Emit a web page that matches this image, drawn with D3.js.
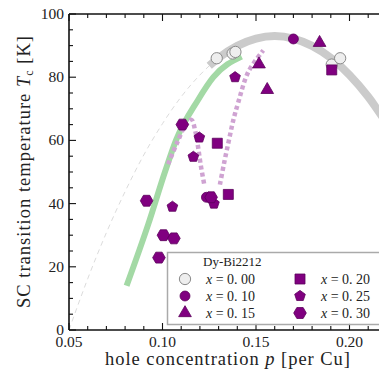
<!DOCTYPE html>
<html><head><meta charset="utf-8">
<script src="https://cdn.jsdelivr.net/npm/d3@7"></script>
<style>
body{margin:0;background:#fff}
svg{display:block}
text{font-family:"Liberation Serif","DejaVu Serif",serif;fill:#222}
</style>
</head><body><svg id="c" width="379" height="376"></svg>
<script>
// ---- data ----
const domeP   = [0.125,0.13,0.14,0.15,0.16,0.17,0.18,0.19,0.20,0.21,0.22];
const domeT   = [83.6,86.1,89.9,92.2,93.0,92.2,89.9,86.1,80.7,73.8,65.3];
const underP  = [0.05,0.06,0.07,0.08,0.09,0.10,0.11,0.12,0.125];
const underT  = [0,16.2,30.8,43.8,55.4,65.3,73.8,80.7,83.6];
const greenP  = [0.0808,0.0924,0.1013,0.1072,0.119,0.1272,0.1423];
const greenT  = [14,33.5,50,60,72.8,80,86.5];
const dotAP   = [0.103,0.108,0.112,0.1155,0.1175,0.119,0.1205,0.1225];
const dotAT   = [52.5,59.5,64.5,66.5,63,58,52,45.5];
const dotBP   = [0.1307,0.133,0.1355,0.1379,0.1405,0.1459,0.1539];
const dotBT   = [46,53,60,66.5,72,81.7,88.5];

const seriesNames = ["x = 0.00","x = 0.10","x = 0.15","x = 0.20","x = 0.25","x = 0.30"];
const x000P = [0.129,0.1375,0.139,0.1905,0.195];
const x000T = [86,87.5,88,84,86];
const x010P = [0.1235,0.170];
const x010T = [42,92.1];
const x015P = [0.1516,0.156,0.184];
const x015T = [84.1,76,90.9];
const x020P = [0.1293,0.1352,0.1905];
const x020T = [59.1,42.9,82.3];
const x025P = [0.1053,0.1165,0.1197,0.1275,0.1388];
const x025T = [39,54.8,60.9,40,80];
const x030P = [0.0915,0.0981,0.1005,0.1061,0.1106,0.126];
const x030T = [40.9,22.9,30,29,65,42];

const xTicks = [0.05,0.10,0.15,0.20];
const yTicks = [0,20,40,60,80,100];

// ---- layout ----
const svg = d3.select("#c");
const L=69, T=14, B=330;
const x = d3.scaleLinear().domain([0.05,0.25]).range([L, L+4*93.5]);
const y = d3.scaleLinear().domain([0,100]).range([B,T]);
const R = x(0.25);

const zip = (P,V)=>P.map((p,i)=>[p,V[i]]);
const line = d3.line().x(d=>x(d[0])).y(d=>y(d[1])).curve(d3.curveMonotoneX);
const lineC = d3.line().x(d=>x(d[0])).y(d=>y(d[1])).curve(d3.curveCatmullRom);

const plot = svg.append("g");
plot.append("path").attr("d",line(zip(underP,underT))).attr("fill","none")
  .attr("stroke","#dcdcdc").attr("stroke-width",1).attr("stroke-dasharray","5,4");
plot.append("path").attr("d",line(zip(domeP,domeT))).attr("fill","none")
  .attr("stroke","#cbcbcb").attr("stroke-width",8);
plot.append("path").attr("d",line(zip(greenP,greenT))).attr("fill","none")
  .attr("stroke","#a3d9a5").attr("stroke-width",6);
[[dotAP,dotAT],[dotBP,dotBT]].forEach(([P,V])=>{
  plot.append("path").attr("d",lineC(zip(P,V))).attr("fill","none")
    .attr("stroke","#cfa3d2").attr("stroke-width",4.5).attr("stroke-dasharray","4,3");
});

// marker shapes
function poly(n, r, rot){
  const pts=[];
  for(let i=0;i<n;i++){const a=rot+i*2*Math.PI/n; pts.push([r*Math.cos(a), r*Math.sin(a)]);}
  return "M"+pts.map(p=>p.join(",")).join("L")+"Z";
}
const shapes = [
  d3.symbol().type(d3.symbolCircle).size(100)(),
  d3.symbol().type(d3.symbolCircle).size(78)(),
  d3.symbol().type(d3.symbolTriangle).size(70)(),
  d3.symbol().type(d3.symbolSquare).size(100)(),
  poly(5,5.6,-Math.PI/2),
  poly(6,6.3,0)
];
const fills = ["#eeeeee","#800080","#800080","#800080","#800080","#800080"];
const strokes = ["#8a8a8a","#5c005c","#5c005c","#5c005c","#5c005c","#5c005c"];
const seriesP = [x000P,x010P,x015P,x020P,x025P,x030P];
const seriesT = [x000T,x010T,x015T,x020T,x025T,x030T];
seriesP.forEach((P,k)=>{
  plot.selectAll(null).data(zip(P,seriesT[k])).enter().append("path")
    .attr("d",shapes[k]).attr("transform",d=>`translate(${x(d[0])},${y(d[1])})`)
    .attr("fill",fills[k]).attr("stroke",strokes[k]).attr("stroke-width",k===0?1:0.8);
});

// ---- axes ----
const ax = svg.append("g").attr("stroke","#111");
ax.append("line").attr("x1",L).attr("x2",R).attr("y1",B).attr("y2",B).attr("stroke-width",1.6);
ax.append("line").attr("x1",L).attr("x2",R).attr("y1",T).attr("y2",T).attr("stroke-width",1.6);
ax.append("line").attr("x1",L).attr("x2",L).attr("y1",T).attr("y2",B).attr("stroke-width",1.6);
const xMinor = d3.range(50,251,10).map(v=>v/1000);
xMinor.forEach(v=>{
  const major = Math.round(v*1000)%50===0;
  const len = major?7:4;
  ax.append("line").attr("x1",x(v)).attr("x2",x(v)).attr("y1",B).attr("y2",B-len).attr("stroke-width",1.1);
  ax.append("line").attr("x1",x(v)).attr("x2",x(v)).attr("y1",T).attr("y2",T+len).attr("stroke-width",1.1);
});
d3.range(0,101,5).forEach(v=>{
  const len = v%20===0?7:4;
  ax.append("line").attr("x1",L).attr("x2",L+len).attr("y1",y(v)).attr("y2",y(v)).attr("stroke-width",1.1);
});
svg.selectAll(null).data(xTicks).enter().append("text")
  .attr("x",d=>x(d)).attr("y",B+16.5).attr("text-anchor","middle").attr("font-size",15.5)
  .text(d=>d.toFixed(2));
svg.selectAll(null).data(yTicks).enter().append("text")
  .attr("x",L-5).attr("y",d=>y(d)+5).attr("text-anchor","end").attr("font-size",15.5)
  .text(d=>d);

// axis titles
const xl = svg.append("text").attr("x",105).attr("y",365).attr("font-size",18.5)
  .attr("textLength",245).attr("lengthAdjust","spacing");
xl.append("tspan").text("hole concentration  ");
xl.append("tspan").attr("font-style","italic").text("p");
xl.append("tspan").text(" [per Cu]");

const yl = svg.append("text").attr("font-size",18.5);
yl.append("tspan").text("SC transition temperature  ");
yl.append("tspan").attr("font-style","italic").text("T");
yl.append("tspan").attr("font-size",12).attr("dy",3).text("c");
yl.append("tspan").attr("dy",-3).text(" [K]");
const ylLen = yl.node().getComputedTextLength();
const ylTarget = 272;
yl.attr("textLength",ylTarget).attr("lengthAdjust","spacing");
yl.attr("transform",`translate(30,${308}) rotate(-90)`);

// ---- legend ----
const lg = svg.append("g");
lg.append("rect").attr("x",167.5).attr("y",252.5).attr("width",240).attr("height",72)
  .attr("fill","#fff").attr("fill-opacity",0.9).attr("stroke","#aaa").attr("stroke-width",1.5);
lg.append("text").attr("x",203).attr("y",266).attr("font-size",13).text("Dy-Bi2212");
seriesNames.forEach((name,k)=>{
  const col = Math.floor(k/3), row = k%3;
  const mx = col===0?185:300, ty = 279+row*17;
  lg.append("path").attr("d",shapes[k]).attr("transform",`translate(${mx},${ty})`)
    .attr("fill",fills[k]).attr("stroke",strokes[k]).attr("stroke-width",k===0?1:0.8);
  const t = lg.append("text").attr("x",mx+21).attr("y",ty+5).attr("font-size",14).attr("fill","#333");
  t.append("tspan").attr("font-style","italic").text("x");
  t.append("tspan").text(" = " + name.split("= ")[1].replace(".", ". "));
});
</script>
</body></html>
